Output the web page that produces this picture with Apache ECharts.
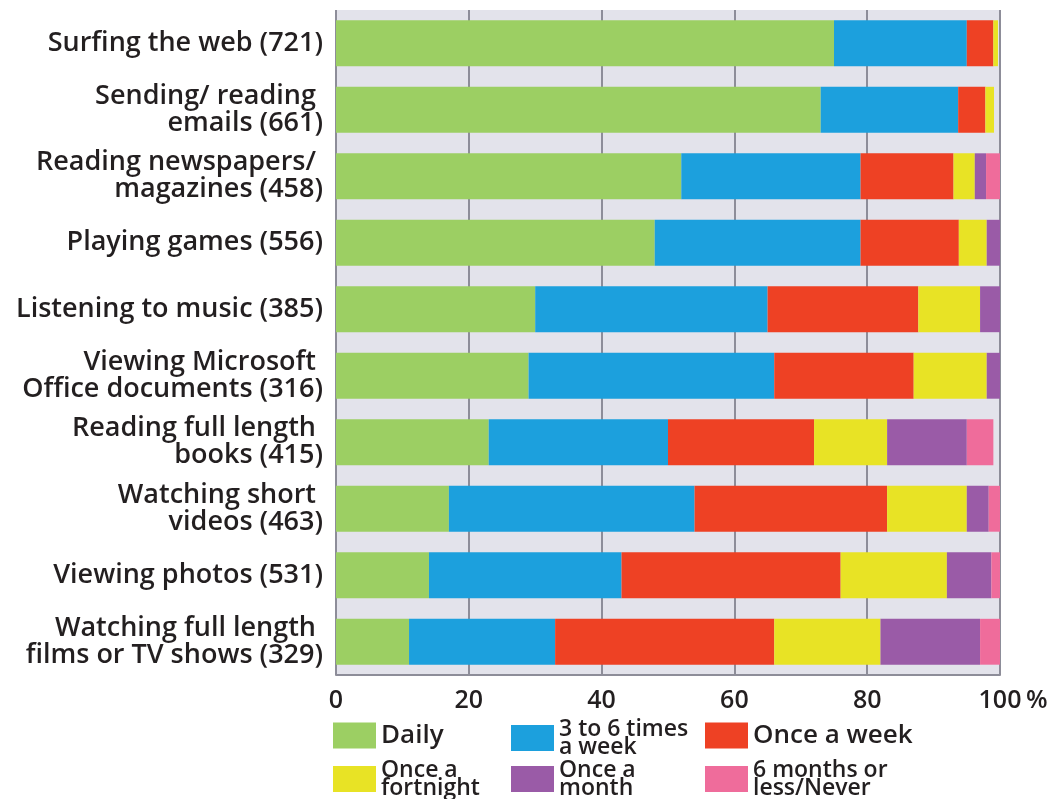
<!DOCTYPE html>
<html>
<head>
<meta charset="utf-8">
<script src="https://cdn.jsdelivr.net/npm/echarts@6/dist/echarts.min.js"></script>
<style>
html,body{margin:0;padding:0;background:#fff;}
#chart{width:1054px;height:799px;}
</style>
</head>
<body>
<div id="chart"></div>
<script>
const categories = [
  'Surfing the web (721)',
  'Sending/ reading \nemails (661)',
  'Reading newspapers/ \nmagazines (458)',
  'Playing games (556)',
  'Listening to music (385)',
  'Viewing Microsoft \nOffice documents (316)',
  'Reading full length \nbooks (415)',
  'Watching short \nvideos (463)',
  'Viewing photos (531)',
  'Watching full length \nfilms or TV shows (329)'
];
const seriesNames = ['Daily', '3 to 6 times\na week', 'Once a week', 'Once a\nfortnight', 'Once a\nmonth', '6 months or\nless/Never'];
const daily     = [75, 73, 52, 48, 30, 29, 23, 17, 14, 11];
const timesWeek = [20, 20.7, 27, 31, 35, 37, 27, 37, 29, 22];
const onceWeek  = [4, 4.1, 14, 14.8, 22.7, 21, 22, 29, 33, 33];
const fortnight = [0.7, 1.3, 3.2, 4.2, 9.3, 11, 11, 12, 16, 16];
const month     = [0, 0, 1.7, 2, 3, 2, 12, 3.3, 6.7, 15];
const never     = [0, 0, 2.1, 0, 0, 0, 4, 1.7, 1.3, 3];
const xTicks = [0, 20, 40, 60, 80, 100];
const unitLabel = '%';

const colors = ['#9ccf63', '#1ca0dd', '#ee4124', '#e8e325', '#9a5ba7', '#ef6c9b'];
const values = [daily, timesWeek, onceWeek, fortnight, month, never];

const chart = echarts.init(document.getElementById('chart'));
const font = "'Open Sans', sans-serif";
const textColor = '#231f20';

const legendPos = [
  {left: 333, top: 722.5, single: true},
  {left: 511, top: 717.5},
  {left: 705, top: 722.5, single: true},
  {left: 333, top: 758.5},
  {left: 511, top: 758.5},
  {left: 705, top: 758.5}
];

const legends = seriesNames.map((n, i) => ({
  data: [n],
  left: legendPos[i].left,
  top: legendPos[i].top,
  padding: 0,
  icon: 'rect',
  itemWidth: 43,
  itemHeight: 26,
  selectedMode: false,
  textStyle: legendPos[i].single
    ? {fontFamily: font, fontSize: 26, fontWeight: 600, lineHeight: 26, color: textColor}
    : {fontFamily: font, fontSize: 23, fontWeight: 600, lineHeight: 18, color: textColor}
}));

chart.setOption({
  animation: false,
  backgroundColor: '#ffffff',
  legend: legends,
  grid: {
    left: 336, right: 54, top: 10, bottom: 124,
    show: true, backgroundColor: '#e3e3eb', borderWidth: 0
  },
  xAxis: {
    type: 'value', min: 0, max: 100, interval: 20,
    axisLine: {show: true, lineStyle: {color: '#8d8d99', width: 2}},
    axisTick: {show: false},
    splitLine: {show: true, lineStyle: {color: '#8d8d99', width: 2}},
    axisLabel: {fontFamily: font, fontSize: 25, fontWeight: 600, color: textColor, margin: 13,
      formatter: v => xTicks.includes(v) ? String(v) : ''}
  },
  yAxis: {
    type: 'category', data: categories, inverse: true,
    axisLine: {show: false}, axisTick: {show: false},
    axisLabel: {fontFamily: font, fontSize: 27, fontWeight: 600, color: textColor, margin: 13, lineHeight: 27, align: 'right'}
  },
  series: seriesNames.map((n, i) => ({
    name: n, type: 'bar', stack: 'all',
    barCategoryGap: '31%',
    itemStyle: {color: colors[i]},
    data: values[i]
  }))
});

// place the "%" unit just after the "100" tick label, using the axis scale
const p = chart.convertToPixel({gridIndex: 0}, [100, 0]);
const grid = chart.getModel().getComponent('grid').coordinateSystem.getRect();
chart.setOption({
  graphic: [{
    type: 'text',
    x: p[0] + 26,
    y: grid.y + grid.height + 13,
    style: {text: unitLabel, fontFamily: font, fontSize: 25, fontWeight: 600, fill: textColor, textVerticalAlign: 'top'}
  }]
});
</script>
</body>
</html>
